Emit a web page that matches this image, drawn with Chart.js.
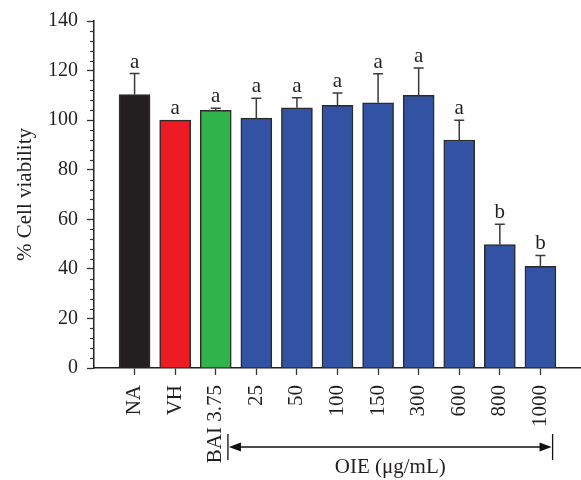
<!DOCTYPE html>
<html>
<head>
<meta charset="utf-8">
<script src="https://cdn.jsdelivr.net/npm/chart.js@4.4.1/dist/chart.umd.min.js"></script>
<style>
  html, body { margin: 0; padding: 0; background: #fff; }
  canvas { display: block; }
</style>
</head>
<body>
<canvas id="chart" width="581" height="480"></canvas>
<script>
// data
const labels = ["NA", "VH", "BAI 3.75", "25", "50", "100", "150", "300", "600", "800", "1000"];
const viability = [110.3, 100, 104, 100.8, 105, 106, 107, 110, 92, 49.8, 41];
const errors = [8.5, 0, 0.8, 8, 4, 5, 11.7, 11, 8, 8.2, 4.4];
const letters = ["a", "a", "a", "a", "a", "a", "a", "a", "a", "b", "b"];
const barColors = ["#231f20", "#ed1c24", "#2fb34a", "#3253a3", "#3253a3", "#3253a3",
  "#3253a3", "#3253a3", "#3253a3", "#3253a3", "#3253a3"];
const yTicks = [0, 20, 40, 60, 80, 100, 120, 140];
const bracket = { from: 2.3, to: 10.3, text: "OIE (\u03bcg/mL)" };

const FONT = "'Liberation Serif', 'Times New Roman', serif";
const INK = "#231f20";

// error bars, letters, minor ticks and the OIE bracket
const extras = {
  id: "extras",
  afterDatasetsDraw(chart) {
    const ctx = chart.ctx;
    const x = chart.scales.x, y = chart.scales.y;
    const meta = chart.getDatasetMeta(0);
    ctx.save();
    ctx.strokeStyle = "#3a3a3a";
    ctx.lineWidth = 1.5;
    meta.data.forEach((bar, i) => {
      const top = y.getPixelForValue(viability[i] + errors[i]);
      if (errors[i] > 0) {
        ctx.beginPath();
        ctx.moveTo(bar.x, bar.y);
        ctx.lineTo(bar.x, top);
        ctx.moveTo(bar.x - 5, top);
        ctx.lineTo(bar.x + 5, top);
        ctx.stroke();
      }
      ctx.fillStyle = INK;
      ctx.font = "21px " + FONT;
      ctx.textAlign = "center";
      ctx.textBaseline = "alphabetic";
      ctx.fillText(letters[i], bar.x, top - 6);
    });

    // minor ticks on y axis
    ctx.strokeStyle = "#333";
    ctx.lineWidth = 1.2;
    for (let v = 4; v < 140; v += 4) {
      if (v % 20 === 0) continue;
      const py = Math.round(y.getPixelForValue(v)) + 0.5;
      ctx.beginPath();
      ctx.moveTo(y.right - 4, py);
      ctx.lineTo(y.right, py);
      ctx.stroke();
    }

    // bracket with arrows
    const x1 = x.getPixelForValue(bracket.from);
    const x2 = x.getPixelForValue(bracket.to);
    const ay = chart.chartArea.bottom + 79;
    ctx.strokeStyle = "#111";
    ctx.fillStyle = "#111";
    ctx.lineWidth = 1.3;
    ctx.beginPath();
    ctx.moveTo(x1, ay - 13); ctx.lineTo(x1, ay + 13);
    ctx.moveTo(x2, ay - 13); ctx.lineTo(x2, ay + 13);
    ctx.moveTo(x1 + 4, ay); ctx.lineTo(x2 - 4, ay);
    ctx.stroke();
    ctx.beginPath();
    ctx.moveTo(x1 + 1, ay); ctx.lineTo(x1 + 13, ay - 4.5); ctx.lineTo(x1 + 13, ay + 4.5);
    ctx.closePath(); ctx.fill();
    ctx.beginPath();
    ctx.moveTo(x2 - 1, ay); ctx.lineTo(x2 - 13, ay - 4.5); ctx.lineTo(x2 - 13, ay + 4.5);
    ctx.closePath(); ctx.fill();
    ctx.fillStyle = INK;
    ctx.font = "21px " + FONT;
    ctx.textAlign = "center";
    ctx.textBaseline = "top";
    ctx.fillText(bracket.text, (x1 + x2) / 2, ay + 10);
    ctx.restore();
  }
};

new Chart(document.getElementById("chart"), {
  type: "bar",
  data: {
    datasets: [{
      data: viability.map((v, i) => ({ x: i, y: v })),
      backgroundColor: barColors,
      borderColor: "#2b2b2b",
      borderWidth: 1.5,
      borderSkipped: "bottom",
      barThickness: 31
    }]
  },
  options: {
    responsive: false,
    animation: false,
    devicePixelRatio: 1,
    layout: { padding: { top: 17, right: 0, bottom: 0, left: 0 } },
    plugins: { legend: { display: false }, tooltip: { enabled: false } },
    scales: {
      x: {
        type: "linear",
        min: -1,
        max: 11,
        offset: false,
        afterBuildTicks: (s) => { s.ticks = labels.map((l, i) => ({ value: i })); },
        afterFit: (s) => { s.height = 112; },
        grid: { drawOnChartArea: false, offset: false, tickLength: 7, color: "#333", tickWidth: 1.3 },
        border: { color: "#222", width: 1.5 },
        ticks: {
          autoSkip: false,
          minRotation: 90,
          maxRotation: 90,
          padding: 10,
          color: INK,
          font: { family: FONT, size: 21 },
          callback: (v) => labels[v]
        }
      },
      y: {
        min: 0,
        max: 140,
        afterBuildTicks: (s) => { s.ticks = yTicks.map(v => ({ value: v })); },
        afterFit: (s) => { s.width = 94; },
        grid: { drawOnChartArea: false, tickLength: 7, color: "#333", tickWidth: 1.3 },
        border: { color: "#222", width: 1.5 },
        ticks: { padding: 9, color: INK, font: { family: FONT, size: 20 } },
        title: {
          display: true,
          text: "% Cell viability",
          color: INK,
          font: { family: FONT, size: 21 },
          padding: { top: 13, bottom: 0 }
        }
      }
    }
  },
  plugins: [extras]
});
</script>
</body>
</html>
